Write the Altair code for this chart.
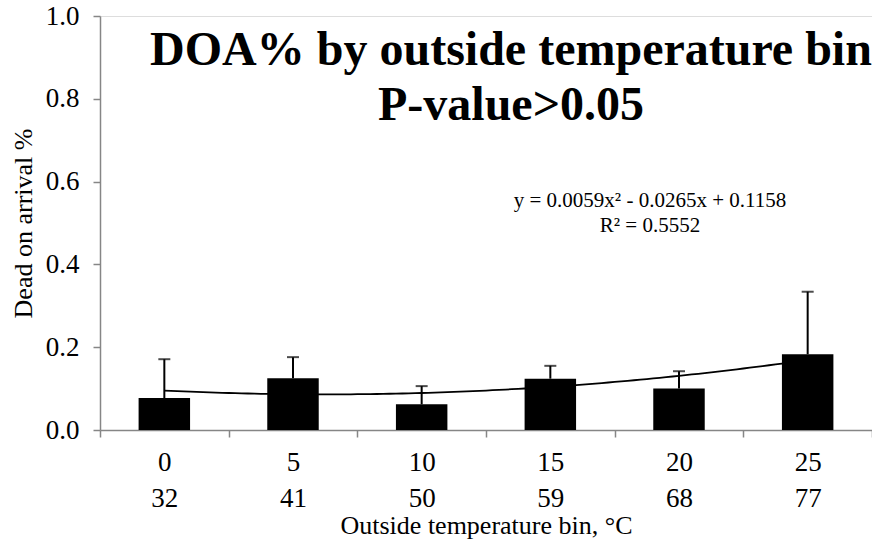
import altair as alt
import pandas as pd

# Temperature bins (°C) with their Fahrenheit equivalents
bin_celsius = ["0", "5", "10", "15", "20", "25"]
bin_fahrenheit = ["32", "41", "50", "59", "68", "77"]

# Dead-on-arrival percentage per bin and the top of its error bar
doa_mean = [0.077, 0.125, 0.062, 0.124, 0.100, 0.183]
doa_upper = [0.171, 0.176, 0.106, 0.155, 0.142, 0.334]

# Second-order polynomial trendline coefficients (x = bin index 1..6)
trend_a = 0.0059
trend_b = -0.0265
trend_c = 0.1158
trend_r2 = 0.5552

title_lines = ["DOA% by outside temperature bin", "P-value>0.05"]

FONT = "Liberation Serif, Times New Roman, serif"
AXIS_GREY = "#868686"

bins = [f"{c}|{f}" for c, f in zip(bin_celsius, bin_fahrenheit)]
df = pd.DataFrame({"bin": bins, "mean": doa_mean, "upper": doa_upper})
one_row = pd.DataFrame({"k": [0]})

x_band = alt.X(
    "bin:N",
    sort=bins,
    scale=alt.Scale(paddingInner=0, paddingOuter=0),
    axis=alt.Axis(
        title="Outside temperature bin, °C",
        labelExpr="split(datum.label, '|')",
        labelAngle=0,
        labelFont=FONT,
        labelFontSize=27,
        labelColor="black",
        labelLineHeight=36,
        labelPadding=12,
        labelBaseline="top",
        titleFont=FONT,
        titleFontSize=26,
        titleFontWeight="normal",
        titleColor="black",
        titlePadding=1,
        tickBand="extent",
        tickSize=7,
        tickColor=AXIS_GREY,
        domainColor=AXIS_GREY,
        domainWidth=1.5,
        tickWidth=1.5,
    ),
)

y_scale = alt.Scale(domain=[0, 1], nice=False)
y_axis = alt.Axis(
    title="Dead on arrival %",
    values=[0, 0.2, 0.4, 0.6, 0.8, 1.0],
    format=".1f",
    grid=False,
    labelFont=FONT,
    labelFontSize=27,
    labelColor="black",
    labelPadding=14,
    titleFont=FONT,
    titleFontSize=26,
    titleFontWeight="normal",
    titleColor="black",
    titlePadding=9,
    tickSize=7,
    tickColor=AXIS_GREY,
    domainColor=AXIS_GREY,
    domainWidth=1.5,
    tickWidth=1.5,
)

# Trendline evaluated from the fitted equation on a continuous index scale
trend = (
    alt.Chart(alt.sequence(1, 6.001, 0.05, as_="idx"))
    .transform_calculate(
        fit=f"{trend_a}*datum.idx*datum.idx + ({trend_b})*datum.idx + {trend_c}"
    )
    .mark_line(color="black", strokeWidth=1.8)
    .encode(
        x=alt.X("idx:Q", scale=alt.Scale(domain=[0.5, 6.5], nice=False, zero=False), axis=None),
        y=alt.Y("fit:Q", scale=y_scale, axis=y_axis),
    )
)

base = alt.Chart(df)

bars = base.mark_bar(color="black", width={"band": 0.4}).encode(
    x=x_band,
    y=alt.Y("mean:Q", scale=y_scale, axis=y_axis),
)

err_rule = base.mark_rule(color="black", strokeWidth=2).encode(
    x=alt.X("bin:N", sort=bins),
    y="mean:Q",
    y2="upper:Q",
)

err_cap = base.mark_tick(color="black", thickness=2, size=12, orient="horizontal").encode(
    x=alt.X("bin:N", sort=bins),
    y="upper:Q",
)

columns = alt.layer(bars, err_rule, err_cap)

equation = alt.Chart(one_row).mark_text(
    font=FONT, fontSize=21, align="center", baseline="alphabetic", lineHeight=25, color="black"
).encode(
    x=alt.value(550),
    y=alt.value(191),
    text=alt.value([
        f"y = {trend_a}x² - {abs(trend_b)}x + {trend_c}",
        f"R² = {trend_r2}",
    ]),
)

heading = alt.Chart(one_row).mark_text(
    font=FONT, fontSize=48, fontWeight="bold", align="center", baseline="alphabetic",
    lineHeight=55, color="black"
).encode(
    x=alt.value(411),
    y=alt.value(49),
    text=alt.value(title_lines),
)

chart = (
    alt.layer(trend, columns, equation, heading)
    .resolve_scale(x="independent")
    .properties(
        width=772,
        height=414,
        padding={"left": 100, "top": 16, "right": 0, "bottom": 114},
        autosize=alt.AutoSizeParams(type="none"),
    )
    .configure_view(stroke=None)
    .configure(background="white")
)

chart.save("out.html", embed_options={"renderer": "svg", "actions": False})
